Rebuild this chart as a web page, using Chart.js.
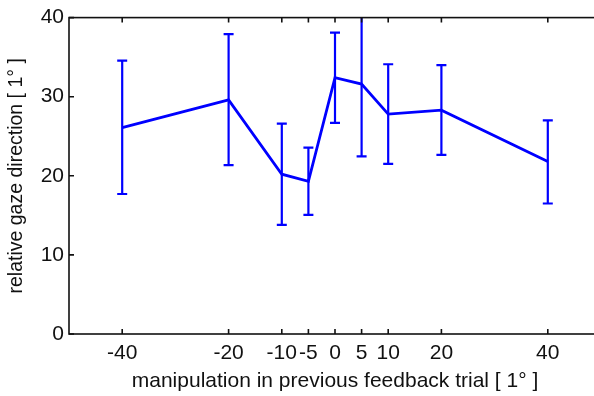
<!DOCTYPE html>
<html>
<head>
<meta charset="utf-8">
<script src="https://cdn.jsdelivr.net/npm/chart.js@4/dist/chart.umd.min.js"></script>
<style>
  html, body { margin: 0; padding: 0; background: #fff; }
  #wrap { width: 594px; height: 396px; overflow: hidden; }
  #wrap div { width: 604px; height: 396px; }
</style>
</head>
<body>
<div id="wrap"><div><canvas id="chart"></canvas></div></div>
<script>
// data
const manipulation = [-40, -20, -10, -5, 0, 5, 10, 20, 40];
const gazeMean = [26.1, 29.6, 20.2, 19.3, 32.4, 31.6, 27.8, 28.3, 21.8];
const gazeLow = [17.7, 21.35, 13.8, 15.05, 26.7, 22.45, 21.5, 22.65, 16.5];
const gazeHigh = [34.55, 37.9, 26.6, 23.55, 38.1, 40.8, 34.1, 34.0, 27.0];
const xTicks = [-40, -20, -10, -5, 0, 5, 10, 20, 40];
const yTicks = [0, 10, 20, 30, 40];

const blue = "#0000ff";

// error bars + MATLAB-style box with inward ticks
const errorBarsAndBox = {
  id: "errorBarsAndBox",
  afterDatasetsDraw(chart) {
    const { ctx, chartArea: a, scales } = chart;
    const xs = scales.x, ys = scales.y;

    ctx.save();
    ctx.beginPath();
    ctx.rect(a.left, a.top, a.right - a.left, a.bottom - a.top);
    ctx.clip();
    ctx.strokeStyle = blue;
    ctx.lineWidth = 2.2;
    manipulation.forEach((m, i) => {
      const px = xs.getPixelForValue(m);
      const lo = ys.getPixelForValue(gazeLow[i]);
      const hi = ys.getPixelForValue(gazeHigh[i]);
      ctx.beginPath();
      ctx.moveTo(px, lo); ctx.lineTo(px, hi);
      ctx.moveTo(px - 5, lo); ctx.lineTo(px + 5, lo);
      ctx.moveTo(px - 5, hi); ctx.lineTo(px + 5, hi);
      ctx.stroke();
    });
    ctx.restore();

    ctx.save();
    ctx.strokeStyle = "#111";
    ctx.lineWidth = 1.6;
    ctx.strokeRect(a.left, a.top, a.right - a.left, a.bottom - a.top);
    ctx.beginPath();
    xTicks.forEach(v => {
      const px = xs.getPixelForValue(v);
      ctx.moveTo(px, a.bottom); ctx.lineTo(px, a.bottom - 5);
      ctx.moveTo(px, a.top); ctx.lineTo(px, a.top + 5);
    });
    yTicks.forEach(v => {
      const py = ys.getPixelForValue(v);
      ctx.moveTo(a.left, py); ctx.lineTo(a.left + 5, py);
      ctx.moveTo(a.right, py); ctx.lineTo(a.right - 5, py);
    });
    ctx.stroke();
    ctx.restore();
  }
};

const font = { family: "'Liberation Sans', Arial, sans-serif", size: 21 };
const yTitleFont = { family: "'Liberation Sans', Arial, sans-serif", size: 19.5 };

new Chart(document.getElementById("chart"), {
  type: "line",
  data: {
    datasets: [{
      data: manipulation.map((m, i) => ({ x: m, y: gazeMean[i] })),
      borderColor: blue,
      borderWidth: 2.8,
      pointRadius: 0,
      tension: 0,
      fill: false
    }]
  },
  options: {
    responsive: true,
    maintainAspectRatio: false,
    animation: false,
    layout: { padding: { top: 15, right: 3, left: 0, bottom: 0 } },
    plugins: { legend: { display: false }, tooltip: { enabled: false } },
    scales: {
      x: {
        type: "linear",
        min: -50,
        max: 50,
        afterBuildTicks: s => { s.ticks = xTicks.map(v => ({ value: v })); },
        afterFit: s => { s.height = 62; },
        grid: { display: false, tickLength: 0 },
        border: { display: false },
        ticks: { color: "#111", font, padding: 7, autoSkip: false, maxRotation: 0 },
        title: {
          display: true,
          text: "manipulation in previous feedback trial [ 1° ]",
          color: "#111",
          font,
          padding: { top: 0, bottom: 2 }
        }
      },
      y: {
        min: 0,
        max: 40,
        afterBuildTicks: s => { s.ticks = yTicks.map(v => ({ value: v })); },
        afterFit: s => { s.width = 69; },
        grid: { display: false, tickLength: 0 },
        border: { display: false },
        ticks: { color: "#111", font, padding: 5 },
        title: {
          display: true,
          text: "relative gaze direction [ 1° ]",
          color: "#111",
          font: yTitleFont,
          padding: { top: 5, bottom: 0 }
        }
      }
    }
  },
  plugins: [errorBarsAndBox]
});
</script>
</body>
</html>
